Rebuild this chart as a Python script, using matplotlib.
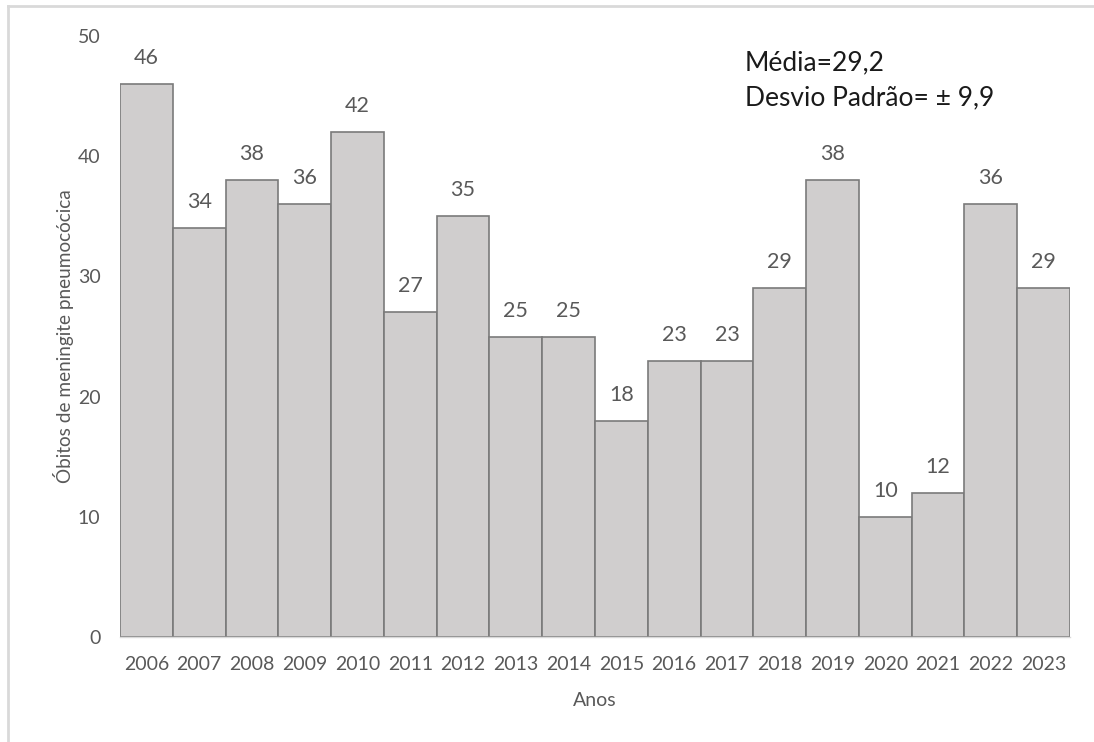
import matplotlib
matplotlib.use("Agg")
import matplotlib.pyplot as plt
from matplotlib.lines import Line2D

plt.rcParams['font.family'] = ['Lato', 'DejaVu Sans']

anos = ['2006', '2007', '2008', '2009', '2010', '2011', '2012', '2013', '2014',
        '2015', '2016', '2017', '2018', '2019', '2020', '2021', '2022', '2023']
obitos = [46, 34, 38, 36, 42, 27, 35, 25, 25, 18, 23, 23, 29, 38, 10, 12, 36, 29]

texto_cor = '#595959'

fig = plt.figure(figsize=(10.94, 7.42), dpi=100)
ax = fig.add_axes([120 / 1094, 105 / 742, 950 / 1094, 601 / 742])

x = list(range(len(anos)))
ax.bar(x, obitos, width=1.0, color='#d0cece', edgecolor='#7a7a7a', linewidth=1.2)

for xi, v in zip(x, obitos):
    ax.annotate(str(v), (xi, v), xytext=(0, 11.5), textcoords='offset points',
                ha='center', va='bottom', fontsize=15.5, color=texto_cor)

ax.set_xlim(-0.5, len(anos) - 0.5)
ax.set_ylim(0, 50)
ax.set_yticks(range(0, 51, 10))
ax.set_xticks(x)
ax.set_xticklabels(anos)
ax.tick_params(axis='both', length=0, labelsize=14, colors=texto_cor)
ax.tick_params(axis='y', pad=14)
ax.tick_params(axis='x', pad=14)

for s in ['top', 'right', 'left']:
    ax.spines[s].set_visible(False)
ax.spines['bottom'].set_color('#d9d9d9')
ax.spines['bottom'].set_linewidth(1.0)

# rótulo do eixo y centrado na altura do gráfico
ax.text(-56 / 950, 0.5, 'Óbitos de meningite pneumocócica', transform=ax.transAxes,
        rotation=90, ha='center', va='center', fontsize=13.7, color=texto_cor)
ax.set_xlabel('Anos', fontsize=14, color=texto_cor, labelpad=13)

fig.text(745 / 1094, 1 - 63 / 742, 'Média=29,2', fontsize=19, color='#1a1a1a', va='center', ha='left')
fig.text(745 / 1094, 1 - 98 / 742, 'Desvio Padrão= ± 9,9', fontsize=19, color='#1a1a1a', va='center', ha='left')

# moldura do gráfico (superior e esquerda)
fig.add_artist(Line2D([8 / 1094, 1.0], [1 - 6 / 742, 1 - 6 / 742], color='#d9d9d9', linewidth=2.0,
                      transform=fig.transFigure))
fig.add_artist(Line2D([8 / 1094, 8 / 1094], [0.0, 1 - 6 / 742], color='#d9d9d9', linewidth=2.0,
                      transform=fig.transFigure))

fig.savefig('out.png', dpi=100)
